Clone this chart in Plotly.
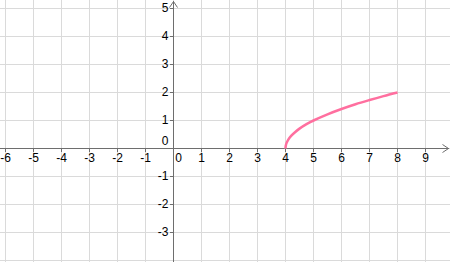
import plotly.graph_objects as go

# data
curve_x = [4.0, 4.01, 4.04, 4.1, 4.2, 4.35, 4.5, 4.75, 5.0, 5.5, 6.0, 6.5, 7.0, 7.5, 8.0]
curve_y = [0.0, 0.10, 0.20, 0.32, 0.45, 0.59, 0.71, 0.87, 1.0, 1.22, 1.41, 1.58, 1.73, 1.87, 2.0]
x_ticks = [-6, -5, -4, -3, -2, -1, 1, 2, 3, 4, 5, 6, 7, 8, 9]
y_ticks = [-3, -2, -1, 1, 2, 3, 4, 5]
x_tick_labels = [str(v) for v in x_ticks]
y_tick_labels = [str(v) for v in y_ticks]

W, H = 450, 262
unit = 28.0
ox, oy = 173.5, 148.5  # pixel position of origin
xr = [-ox / unit, (W - ox) / unit]
yr = [-(H - oy) / unit, oy / unit]
px = 1.0 / unit

axis_col = "#6e6e6e"
grid_col = "#dadada"
font = dict(family="Liberation Sans, Arial, sans-serif", size=12, color="#000000")

fig = go.Figure()

# axes lines
fig.add_trace(go.Scatter(x=[xr[0], xr[1] - 1 * px], y=[0, 0], mode="lines",
                         line=dict(color=axis_col, width=1), hoverinfo="skip"))
fig.add_trace(go.Scatter(x=[0, 0], y=[yr[0], yr[1] - 1 * px], mode="lines",
                         line=dict(color=axis_col, width=1), hoverinfo="skip"))
# arrow heads
tipx = xr[1] - 1.5 * px
fig.add_trace(go.Scatter(x=[tipx - 6 * px, tipx, tipx - 6 * px], y=[4 * px, 0, -4 * px],
                         mode="lines", line=dict(color=axis_col, width=1), hoverinfo="skip"))
tipy = yr[1] - 1.5 * px
fig.add_trace(go.Scatter(x=[-4 * px, 0, 4 * px], y=[tipy - 6 * px, tipy, tipy - 6 * px],
                         mode="lines", line=dict(color=axis_col, width=1), hoverinfo="skip"))

# tick marks
tx, ty = [], []
for v in x_ticks:
    tx += [v, v, None]
    ty += [0, -3.5 * px, None]
for v in y_ticks:
    tx += [0, -3.5 * px, None]
    ty += [v, v, None]
fig.add_trace(go.Scatter(x=tx, y=ty, mode="lines", line=dict(color=axis_col, width=1),
                         hoverinfo="skip"))

# curve
fig.add_trace(go.Scatter(x=curve_x, y=curve_y, mode="lines", line_shape="spline",
                         line=dict(color="#FF6F9F", width=2.5), hoverinfo="skip"))

# tick labels
fig.add_trace(go.Scatter(x=x_ticks, y=[-10.5 * px] * len(x_ticks), mode="text",
                         text=x_tick_labels, textposition="middle center", cliponaxis=False,
                         textfont=font, hoverinfo="skip"))
fig.add_trace(go.Scatter(x=[-5 * px] * len(y_ticks), y=y_ticks, mode="text",
                         text=y_tick_labels, textposition="middle left", cliponaxis=False,
                         textfont=font, hoverinfo="skip"))
fig.add_trace(go.Scatter(x=[5 * px, -5 * px], y=[-10.5 * px, 7 * px], mode="text",
                         text=["0", "0"], textposition=["middle center", "middle left"],
                         cliponaxis=False, textfont=font, hoverinfo="skip"))

fig.update_layout(
    width=W, height=H, margin=dict(l=0, r=0, t=0, b=0),
    paper_bgcolor="white", plot_bgcolor="white", showlegend=False,
    xaxis=dict(range=xr, dtick=1, tick0=0, showgrid=True, gridcolor=grid_col, gridwidth=1,
               zeroline=False, showticklabels=False, ticks="", showline=False, fixedrange=True),
    yaxis=dict(range=yr, dtick=1, tick0=0, showgrid=True, gridcolor=grid_col, gridwidth=1,
               zeroline=False, showticklabels=False, ticks="", showline=False, fixedrange=True),
)
fig.write_html("out.html", config={"displayModeBar": False})
